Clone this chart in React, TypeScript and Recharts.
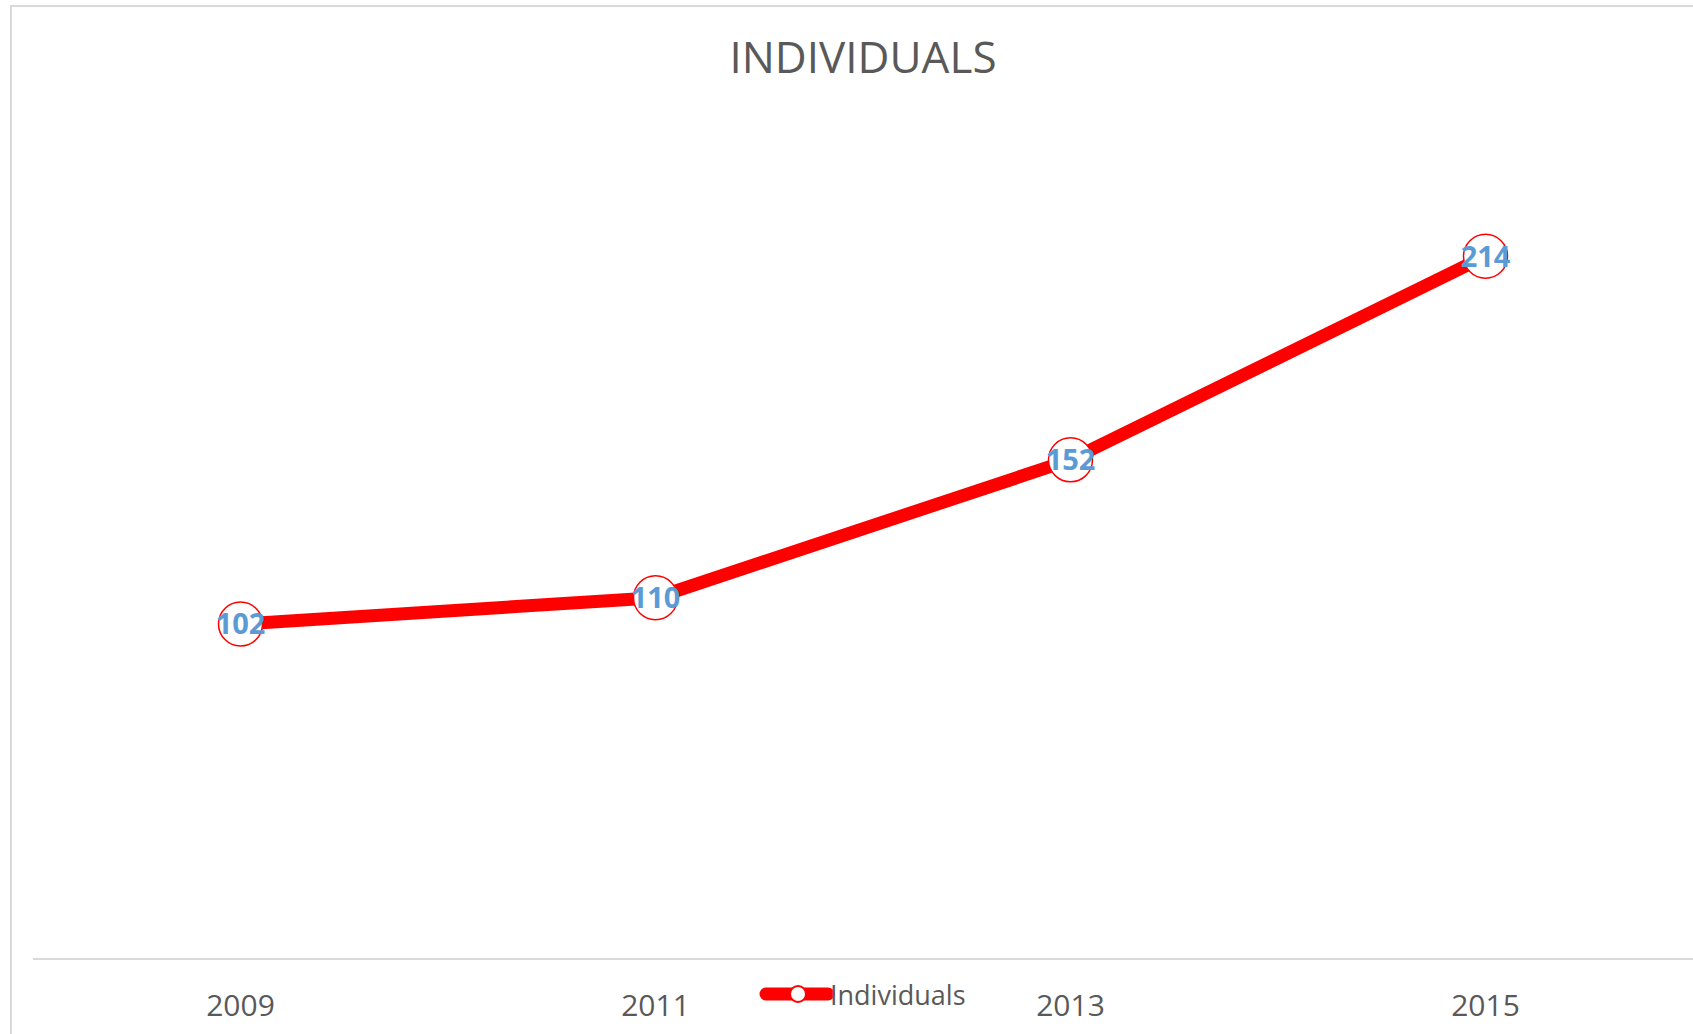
import { LineChart, Line, XAxis, YAxis, LabelList, Legend } from 'recharts';

const YEARS = ['2009', '2011', '2013', '2015'];
const INDIVIDUALS = [102, 110, 152, 214];

const data = YEARS.map((year, i) => ({ year, Individuals: INDIVIDUALS[i] }));

const GREY = '#595959';
const RED = '#ff0000';
const FONT = '"Open Sans", "Noto Sans", sans-serif';

const YearTick = ({ x, y, payload }: any) => (
    <text x={x} y={y} dy={57} textAnchor="middle" fontSize={30} fill={GREY} fontFamily={FONT}>
        {payload.value}
    </text>
);

const LegendContent = ({ payload }: any) => {
    const item = payload && payload[0];
    if (!item) return null;
    return (
        <svg width={220} height={40}>
            <line x1={8} x2={70} y1={18} y2={18} stroke={RED} strokeWidth={13} strokeLinecap="round" />
            <circle cx={40} cy={18} r={8} fill="#fff" stroke={RED} strokeWidth={2} />
            <text x={72} y={29} fontSize={27} fill={GREY} fontFamily={FONT}>
                {item.value}
            </text>
        </svg>
    );
};

export default function App() {
    return (
        <div style={{ position: 'absolute', left: 0, top: 0, width: 1693, height: 1034, overflow: 'hidden', background: '#fff' }}>
            <style>{`body { margin: 0; }`}</style>
            {/* chart frame, runs past the window on the right and bottom */}
            <div style={{ position: 'absolute', left: 10, top: 5, width: 1800, height: 1100, border: '2px solid #d9d9d9' }} />
            <div
                style={{
                    position: 'absolute',
                    left: 0,
                    top: 34,
                    width: 1726,
                    textAlign: 'center',
                    fontFamily: FONT,
                    fontSize: 44,
                    lineHeight: '44px',
                    color: GREY,
                }}
            >
                INDIVIDUALS
            </div>
            <div style={{ position: 'absolute', left: 0, top: 0 }}>
                <LineChart width={1693} height={1034} data={data} margin={{ top: 138, right: 0, bottom: 0, left: 33 }}>
                    <XAxis
                        dataKey="year"
                        height={75}
                        padding={{ left: 207.5, right: 207.5 }}
                        tickLine={false}
                        tickSize={0}
                        tickMargin={0}
                        axisLine={{ stroke: '#d9d9d9', strokeWidth: 2 }}
                        tick={<YearTick />}
                        interval={0}
                    />
                    <YAxis hide domain={[0, 250]} />
                    <Legend
                        layout="horizontal"
                        verticalAlign="middle"
                        align="center"
                        content={<LegendContent />}
                        wrapperStyle={{ left: 758, top: 976, width: 220, height: 40 }}
                    />
                    <Line
                        type="linear"
                        dataKey="Individuals"
                        stroke={RED}
                        strokeWidth={13}
                        dot={{ r: 22, fill: '#fff', stroke: RED, strokeWidth: 1.5 }}
                        activeDot={false}
                        isAnimationActive={false}
                    >
                        <LabelList
                            dataKey="Individuals"
                            position="center"
                            fill="#5b9bd5"
                            fontSize={29}
                            fontWeight="bold"
                            fontFamily={FONT}
                        />
                    </Line>
                </LineChart>
            </div>
        </div>
    );
}
